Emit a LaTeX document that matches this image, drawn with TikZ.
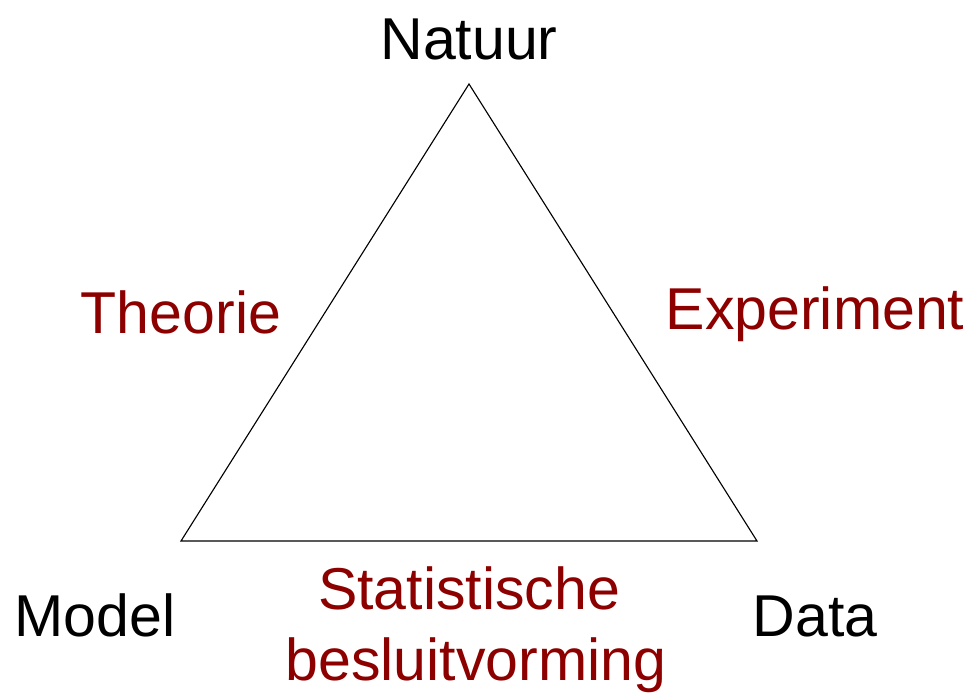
\documentclass[tikz,border=0pt]{standalone}
\usepackage{fontspec}
\setmainfont{Liberation Sans}
\usepackage{tikz}
\usetikzlibrary{positioning, calc}
\definecolor{darkred1}{RGB}{140, 0, 0}
\tikzset{
  corner/.style={font=\fontsize{42}{48}\selectfont, text=black, inner sep=0pt, anchor=base},
  side/.style={font=\fontsize{42}{48}\selectfont, text=darkred1, inner sep=0pt, anchor=base}
}

\begin{document}
\begin{tikzpicture}[x=0.025cm, y=-0.025cm]
  \useasboundingbox (0, 0) rectangle (976, 696);

  % Triangle
  \coordinate (top) at (469, 84);
  \coordinate (left) at (181, 541);
  \coordinate (right) at (757, 541);
  \draw[line width=0.8pt] (top) -- (left) -- (right) -- cycle;

  % Corners
  \node[corner] (natuur) at (469, 60) {Natuur};
  \node[corner] (model) at (95, 636) {Model};
  \node[corner] (data) at (815, 636) {Data};

  % Sides
  \node[side] (theorie) at (181, 333) {Theorie};
  \node[side] (experiment) at (815, 329) {Experiment};
  \node[side] (stat) at (469, 609) {Statistische};
  \node[side] (besluit) at (476, 680) {besluitvorming};
\end{tikzpicture}
\end{document}
